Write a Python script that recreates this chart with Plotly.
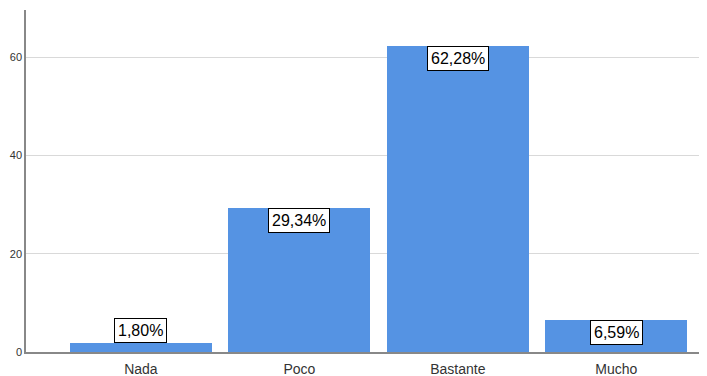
import plotly.graph_objects as go

categories = ["Nada", "Poco", "Bastante", "Mucho"]
percentages = [1.80, 29.34, 62.28, 6.59]
y_ticks = [0, 20, 40, 60]

bar_color = "#5593E3"

fig = go.Figure()
fig.add_trace(go.Bar(
    x=list(range(len(categories))),
    y=percentages,
    marker=dict(color=bar_color, line=dict(width=0)),
    width=0.895,
    hoverinfo="skip",
))

for i, v in enumerate(percentages):
    label = f"{v:.2f}".replace(".", ",") + "%"
    inside = v > 5
    fig.add_annotation(
        x=i, y=v, text=label, showarrow=False,
        xref="x", yref="y",
        yanchor="top" if inside else "bottom",
        font=dict(family="Arial, Liberation Sans", size=16, color="black"),
        bgcolor="white", bordercolor="black", borderwidth=1, borderpad=3,
    )

# page body has an 8px margin; size the figure to fit the 707x376 window
fig.update_layout(
    width=699, height=368,
    margin=dict(l=18, r=2, t=2, b=24),
    paper_bgcolor="white", plot_bgcolor="white",
    showlegend=False,
    bargap=0,
)
fig.update_xaxes(
    range=[-0.725, 3.56],
    tickmode="array", tickvals=list(range(len(categories))), ticktext=categories,
    showgrid=False, zeroline=False,
    showline=True, linecolor="#888888", linewidth=1.5,
    tickfont=dict(family="Arial, Liberation Sans", size=14, color="#333333"),
    ticks="", automargin=False, ticklabelstandoff=3,
)
fig.update_yaxes(
    range=[0, 69.6],
    tickmode="array", tickvals=y_ticks,
    showgrid=True, gridcolor="#d9d9d9", gridwidth=1,
    zeroline=False,
    showline=True, linecolor="#888888", linewidth=1.5,
    tickfont=dict(family="Arial, Liberation Sans", size=11, color="#333333"),
    ticks="", automargin=False,
)

fig.write_html("out.html")
